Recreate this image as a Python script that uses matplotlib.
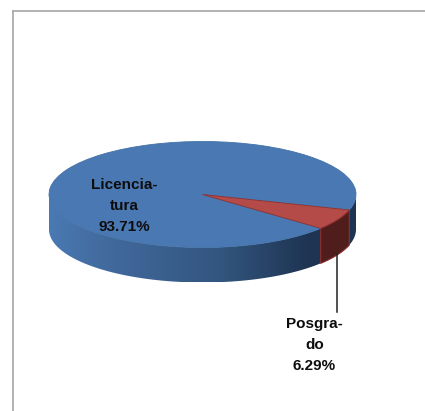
import numpy as np
import matplotlib
matplotlib.use("Agg")
import matplotlib.pyplot as plt
from matplotlib.colors import LinearSegmentedColormap
from matplotlib.lines import Line2D
from matplotlib.patches import Polygon

categories = ["Licenciatura", "Posgrado"]
values = [93.71, 6.29]
label_lines = ["Licencia-\ntura", "Posgra-\ndo"]
top_colors = ["#4a78b3", "#b54b48"]
wall_red = "#4f1e1c"
edge_red = "#8c302e"

W, H = 425, 411
cx, cy, rx, ry, depth = 202.5, 194.5, 153.5, 53.0, 35.0

fig = plt.figure(figsize=(W / 100, H / 100), dpi=100, facecolor="white")
ax = fig.add_axes([0, 0, 1, 1])

wedges, _ = ax.pie(values, startangle=-17, radius=1, center=(0, 0),
                   colors=top_colors, frame=False,
                   wedgeprops=dict(linewidth=0.6, zorder=5))
wedges[0].set_edgecolor("#4272a8")
wedges[1].set_edgecolor(edge_red)

d = depth / ry
blue_cmap = LinearSegmentedColormap.from_list(
    "wall", [(0, "#4a79b3"), (0.2, "#41699c"), (0.55, "#335680"), (0.84, "#1f3553"), (1, "#1e3452")])


def wall_outline(a, b):
    t = np.radians(np.linspace(a, b, 120))
    x, y = np.cos(t), np.sin(t)
    return np.column_stack([np.r_[x, x[::-1]], np.r_[y, y[::-1] - d]])


# blue wall: a gradient clipped to the front half of the cylinder
grad = np.linspace(0, 1, 400).reshape(1, -1)
im = ax.imshow(grad, cmap=blue_cmap, extent=(-1, 1, -1 - d, 1), aspect="auto", zorder=2)
clip = Polygon(wall_outline(180, 360), closed=True, transform=ax.transData, fc="none", ec="none")
ax.add_patch(clip)
im.set_clip_path(clip)

# dark red wall of the second slice
post1, post2 = wedges[1].theta1, wedges[1].theta2
ax.add_patch(Polygon(wall_outline(post1, post2), closed=True, fc=wall_red, ec=edge_red, lw=0.8, zorder=3))

ax.set_aspect("auto")
ax.set_xlim(-cx / rx, (W - cx) / rx)
ax.set_ylim((cy - H) / ry, cy / ry)
ax.axis("off")

# text
font = dict(family="Liberation Sans", weight="bold", fontsize=11.0, color="#0d0d0d",
            ha="center", va="center", linespacing=1.6)
ax.text((124.5 - cx) / rx, (cy - 206) / ry,
        f"{label_lines[0]}\n{values[0]:.2f}%", zorder=7, **font)
ax.text((314.5 - cx) / rx, (cy - 345) / ry,
        f"{label_lines[1]}\n{values[1]:.2f}%", zorder=7, **font)

# leader line and outer frame in figure pixels
px = lambda x, y: (x / W, 1 - y / H)
for (p, q, c, lw) in [((337, 254), (337, 312), "#222222", 1.1),
                      ((13.5, 411), (13.5, 11.5), "#a6a6a6", 1.2),
                      ((13.5, 11.5), (425, 11.5), "#a6a6a6", 1.2)]:
    a1, b1 = px(*p); a2, b2 = px(*q)
    fig.add_artist(Line2D([a1, a2], [b1, b2], color=c, lw=lw, transform=fig.transFigure))

fig.savefig("out.png", dpi=100, facecolor="white")
